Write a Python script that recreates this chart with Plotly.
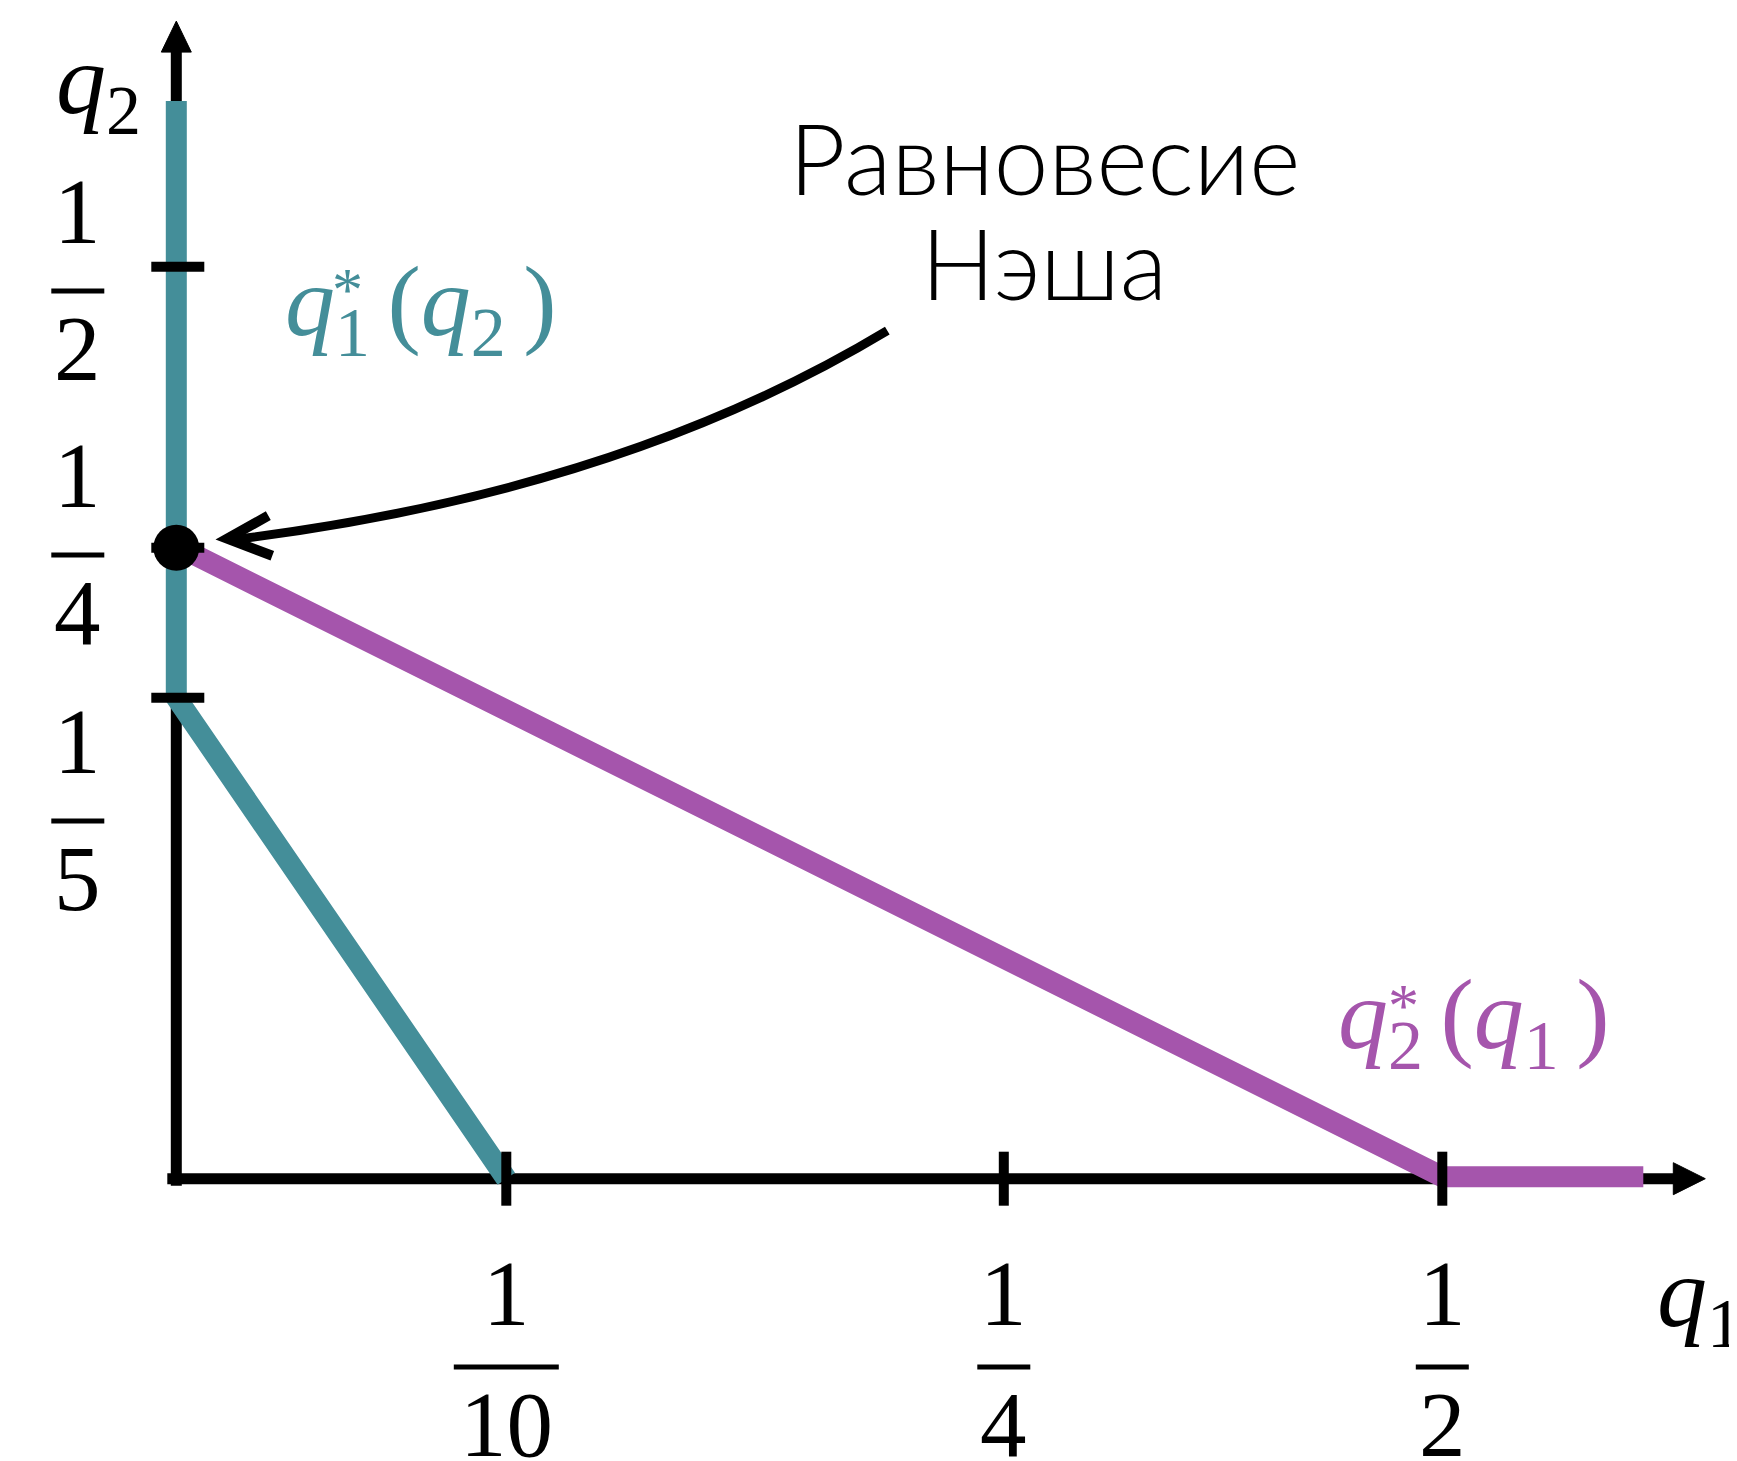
import numpy as np
import plotly.graph_objects as go

# ---------------- data ----------------
q1_tick_vals = [0.1, 0.25, 0.5]
q1_tick_num = ["1", "1", "1"]
q1_tick_den = ["10", "4", "2"]

q2_tick_vals = [0.5, 0.25, 0.2]
q2_tick_num = ["1", "1", "1"]
q2_tick_den = ["2", "4", "5"]

# best response of firm 1: q1*(q2)
br1_q1 = [0.0, 0.0, 0.1]
br1_q2 = [0.6, 0.2, 0.0]
# best response of firm 2: q2*(q1)
br2_q1 = [0.0, 0.5, 0.6]
br2_q2 = [0.25, 0.0, 0.0]
# Nash equilibrium
nash_q1 = [0.0]
nash_q2 = [0.25]

# schematic (non-uniform) scale of the drawing: value -> axis units
X_SCALE_VALS = [0.0, 0.1, 0.25, 0.5, 0.6]
X_SCALE_POS = [0.0, 330.0, 827.5, 1266.0, 1467.0]
Y_SCALE_VALS = [0.0, 0.2, 0.25, 0.5, 0.6]
Y_SCALE_POS = [0.0, 481.0, 631.0, 912.0, 1077.6]


def sx(v):
    return np.interp(v, X_SCALE_VALS, X_SCALE_POS)


def sy(v):
    return np.interp(v, Y_SCALE_VALS, Y_SCALE_POS)


TEAL = "#448E99"
PURPLE = "#A555AC"
BLACK = "#000000"
SERIF = "Liberation Serif"
W, H = 1737, 1461
X0, Y0 = 168.3, 1170.7  # origin inside the figure (page body adds 8px)

X_END = 1529.0   # x-axis arrow tip (axis units)
Y_END = 1157.6   # y-axis arrow tip

fig = go.Figure()

# axes lines
fig.add_trace(go.Scatter(x=[-9, X_END - 30], y=[0, 0], mode="lines",
                         line=dict(color=BLACK, width=11), hoverinfo="skip"))
fig.add_trace(go.Scatter(x=[0, 0], y=[-7, Y_END - 30], mode="lines",
                         line=dict(color=BLACK, width=11), hoverinfo="skip"))
# arrow heads
fig.add_trace(go.Scatter(x=[X_END - 32, X_END, X_END - 32, X_END - 32],
                         y=[16, 0, -16, 16], mode="lines", fill="toself",
                         fillcolor=BLACK, line=dict(color=BLACK, width=1),
                         hoverinfo="skip"))
fig.add_trace(go.Scatter(x=[-15, 0, 15, -15],
                         y=[Y_END - 31, Y_END, Y_END - 31, Y_END - 31],
                         mode="lines", fill="toself", fillcolor=BLACK,
                         line=dict(color=BLACK, width=1), hoverinfo="skip"))

# best responses
fig.add_trace(go.Scatter(x=sx(br1_q1), y=sy(br1_q2), mode="lines",
                         line=dict(color=TEAL, width=21), hoverinfo="skip"))
fig.add_trace(go.Scatter(x=sx(br2_q1), y=sy(br2_q2) + 2, mode="lines",
                         line=dict(color=PURPLE, width=21), hoverinfo="skip"))

# ticks
tx, ty = [], []
for v in q1_tick_vals:
    tx += [sx(v), sx(v), None]
    ty += [-27, 27, None]
for v in q2_tick_vals:
    tx += [-25, 28, None]
    ty += [sy(v), sy(v), None]
fig.add_trace(go.Scatter(x=tx, y=ty, mode="lines",
                         line=dict(color=BLACK, width=10), hoverinfo="skip"))

# Nash point
fig.add_trace(go.Scatter(x=sx(nash_q1), y=sy(nash_q2), mode="markers",
                         marker=dict(color=BLACK, size=46), hoverinfo="skip"))

annotations = []
shapes = []


def frac(xc, ybar, num, den, width, num_gap=74):
    annotations.append(dict(x=xc, y=ybar + num_gap, text=num, showarrow=False,
                            xanchor="center", yanchor="middle",
                            font=dict(family=SERIF, size=93, color=BLACK)))
    annotations.append(dict(x=xc, y=ybar - 57, text=den, showarrow=False,
                            xanchor="center", yanchor="middle",
                            font=dict(family=SERIF, size=93, color=BLACK)))
    shapes.append(dict(type="line", xref="x", yref="y",
                       x0=xc - width / 2, x1=xc + width / 2, y0=ybar, y1=ybar,
                       line=dict(color=BLACK, width=5)))


# x tick labels (below axis)
for v, n, d in zip(q1_tick_vals, q1_tick_num, q1_tick_den):
    frac(float(sx(v)), -188.4, n, d, 105 if len(d) > 1 else 53)

# y tick labels (left of axis, evenly stacked)
y_label_bars = [887.6, 623.6, 357.6]
for yb, n, d in zip(y_label_bars, q2_tick_num, q2_tick_den):
    frac(-98.5, yb, n, d, 53, num_gap=80)

# axis titles
annotations.append(dict(x=-122, y=1092, text="<i>q</i><sub>2</sub>", showarrow=False,
                        xanchor="left", yanchor="middle",
                        font=dict(family=SERIF, size=100, color=BLACK)))
annotations.append(dict(x=1479, y=-121, text="<i>q</i><sub>1</sub>", showarrow=False,
                        xanchor="left", yanchor="middle",
                        font=dict(family=SERIF, size=100, color=BLACK)))

# curve labels
annotations.append(dict(x=107, y=870, text="<i>q</i><sub>1 </sub>(<i>q</i><sub>2 </sub>)",
                        showarrow=False, xanchor="left", yanchor="middle",
                        font=dict(family=SERIF, size=100, color=TEAL)))
annotations.append(dict(x=171, y=890, text="*", showarrow=False,
                        xanchor="center", yanchor="middle",
                        font=dict(family=SERIF, size=62, color=TEAL)))
annotations.append(dict(x=1160, y=157, text="<i>q</i><sub>2 </sub>(<i>q</i><sub>1 </sub>)",
                        showarrow=False, xanchor="left", yanchor="middle",
                        font=dict(family=SERIF, size=100, color=PURPLE)))
annotations.append(dict(x=1227, y=174, text="*", showarrow=False,
                        xanchor="center", yanchor="middle",
                        font=dict(family=SERIF, size=62, color=PURPLE)))

# Nash annotation
annotations.append(dict(x=868, y=1022, text="Равновесие", showarrow=False,
                        xanchor="center", yanchor="middle",
                        font=dict(family="Lato", size=98, color=BLACK, weight=300)))
annotations.append(dict(x=868, y=917, text="Нэша", showarrow=False,
                        xanchor="center", yanchor="middle",
                        font=dict(family="Lato", size=98, color=BLACK, weight=300)))

shapes.append(dict(type="path", xref="x", yref="y",
                   path="M 711,848 Q 442,686 56,639",
                   line=dict(color=BLACK, width=9)))
shapes.append(dict(type="path", xref="x", yref="y",
                   path="M 92,663 L 51,640 L 96,623",
                   line=dict(color=BLACK, width=10)))

fig.update_layout(
    width=W, height=H,
    margin=dict(l=0, r=0, t=0, b=0),
    paper_bgcolor="white", plot_bgcolor="white",
    showlegend=False,
    xaxis=dict(range=[-X0, W - X0], visible=False, fixedrange=True),
    yaxis=dict(range=[Y0 - H, Y0], visible=False, fixedrange=True),
    annotations=annotations,
    shapes=shapes,
)

fig.write_html("out.html")
